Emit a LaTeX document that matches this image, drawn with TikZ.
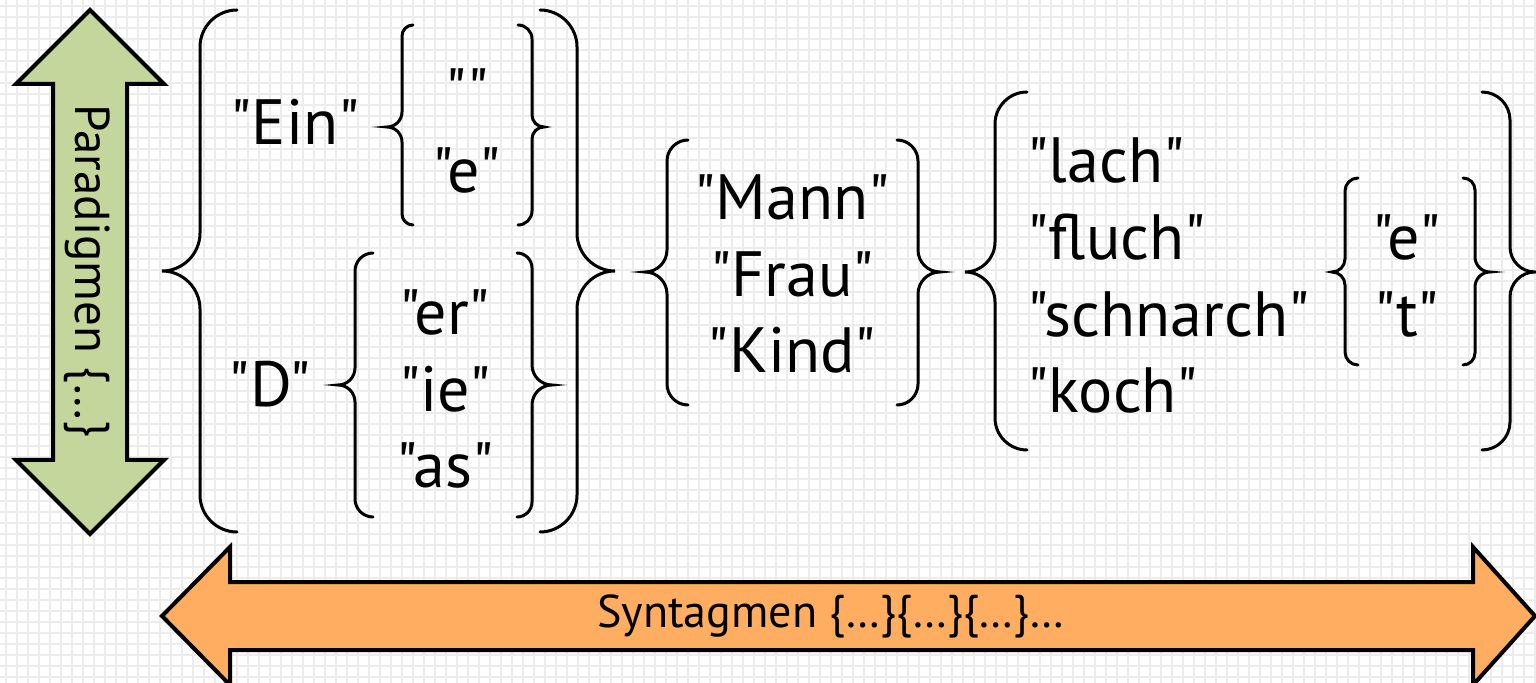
\documentclass[tikz,border=0pt]{standalone}
\usepackage{fontspec}
\setmainfont{PT Sans}[Ligatures=TeXOff]
\usepackage{tikz}

\definecolor{pgruen}{HTML}{C4D69B}
\definecolor{sorange}{HTML}{FFAD60}
\definecolor{raster}{HTML}{ECECEC}

\tikzset{
  klammerlinie/.style={line width=1.5pt, line cap=round},
  wort/.style={inner sep=0pt, anchor=base, font=\fontsize{32}{38}\selectfont},
  wortlinks/.style={wort, anchor=base west},
  pfeil/.style={draw, line width=2pt, line join=miter},
  pfeiltext/.style={inner sep=0pt, font=\fontsize{23}{28}\selectfont}
}

% #1 Spitze, #2 Senkrechte, #3 Enden, #4 oben, #5 Mitte, #6 unten
\newcommand{\klammer}[6]{%
  \pgfmathsetmacro{\ra}{abs(#3-#2)}%
  \pgfmathsetmacro{\rb}{abs(#1-#2)}%
  \draw[klammerlinie] (#3,#4)
    .. controls ({#2+0.45*(#3-#2)},#4) and (#2,{#4+0.45*\ra}) .. (#2,{#4+\ra})
    -- (#2,{#5-\rb})
    .. controls (#2,{#5-0.45*\rb}) and ({#2+0.45*(#1-#2)},#5) .. (#1,#5)
    .. controls ({#2+0.45*(#1-#2)},#5) and (#2,{#5+0.45*\rb}) .. (#2,{#5+\rb})
    -- (#2,{#6-\ra})
    .. controls (#2,{#6-0.45*\ra}) and ({#2+0.45*(#3-#2)},#6) .. (#3,#6);
}

\begin{document}
\begin{tikzpicture}[x=0.5pt,y=-0.5pt]
  \useasboundingbox (0,0) rectangle (1536,683);
  \fill[white] (0,0) rectangle (1536,683);
  \foreach \x in {6,17,...,1536}{
    \draw[raster, line width=1.2pt] (\x,0) -- (\x,683);
  }
  \foreach \y in {6,17,...,683}{
    \draw[raster, line width=1.2pt] (0,\y) -- (1536,\y);
  }

  \draw[pfeil, fill=pgruen] (90,10) -- (164,84) -- (127,84) -- (127,460) -- (164,460)
    -- (90,534) -- (16,460) -- (53,460) -- (53,84) -- (16,84) -- cycle;
  \node[pfeiltext, rotate=-90, font=\fontsize{24.5}{29}\selectfont] (paradigmen) at (87,271) {Paradigmen \{…\}};

  \draw[pfeil, fill=sorange] (162,616) -- (230,547) -- (230,582) -- (1473,582) -- (1473,547)
    -- (1535,616) -- (1473,685) -- (1473,650) -- (230,650) -- (230,685) -- cycle;
  \node[pfeiltext] (syntagmen) at (831,616) {Syntagmen \{…\}\{…\}\{…\}…};

  \klammer{162}{200}{237}{10}{271}{532}
  \klammer{615}{577}{540}{10}{271}{532}
  \klammer{387}{402}{413}{25}{127}{225}
  \klammer{544}{532}{518}{25}{127}{225}
  \klammer{338}{355}{373}{253}{385}{517}
  \klammer{552}{532}{517}{253}{385}{517}
  \klammer{645}{667}{688}{140}{272}{405}
  \klammer{940}{918}{897}{140}{272}{405}
  \klammer{965}{995}{1027}{92}{272}{450}
  \klammer{1535}{1510}{1482}{92}{272}{450}
  \klammer{1332}{1345}{1358}{178}{272}{365}
  \klammer{1490}{1475}{1463}{178}{272}{365}

  \node[wort] (ein) at (295,145) {"Ein"};
  \node[wort] (leer) at (467,114) {""};
  \node[wort] (e1) at (467,193) {"e"};
  \node[wort] (d) at (270,407) {"D"};
  \node[wort] (er) at (445,335) {"er"};
  \node[wort] (ie) at (445,412) {"ie"};
  \node[wort] (as) at (445,488) {"as"};
  \node[wort] (mann) at (792,220) {"Mann"};
  \node[wort] (frau) at (792,297) {"Frau"};
  \node[wort] (kind) at (792,373) {"Kind"};
  \node[wortlinks] (lach) at (1027,183) {"lach"};
  \node[wortlinks] (fluch) at (1027,260) {"fluch"};
  \node[wortlinks] (schnarch) at (1027,337) {"schnarch"};
  \node[wortlinks] (koch) at (1027,413) {"koch"};
  \node[wort] (e2) at (1407,260) {"e"};
  \node[wort] (t) at (1407,337) {"t"};
\end{tikzpicture}
\end{document}
